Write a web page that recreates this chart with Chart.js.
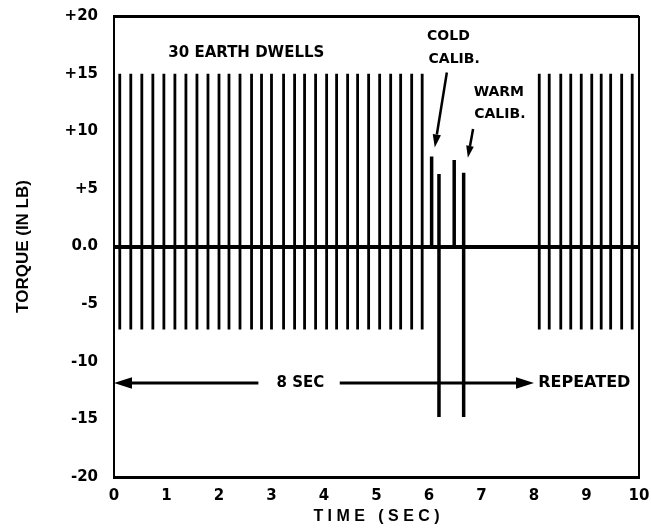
<!DOCTYPE html>
<html>
<head>
<meta charset="utf-8">
<script src="https://cdn.jsdelivr.net/npm/chart.js@4.4.1/dist/chart.umd.min.js"></script>
<style>
  html, body { margin: 0; padding: 0; background: #fff; }
</style>
</head>
<body>
<canvas id="torqueChart" width="651" height="529"></canvas>
<script>
// times (sec) of each dwell pulse
const earthDwellTimes = [0.11, 0.32, 0.53, 0.74, 0.95, 1.16, 1.37, 1.58, 1.79, 2.00,
  2.19, 2.40, 2.62, 2.81, 3.00, 3.23, 3.44, 3.63, 3.84, 4.05,
  4.24, 4.45, 4.64, 4.85, 5.06, 5.27, 5.46, 5.67, 5.87];
const repeatDwellTimes = [8.10, 8.29, 8.51, 8.70, 8.90, 9.10, 9.28, 9.46, 9.67, 9.87];
const dwellHigh = 15;
const dwellLow = -7.2;

// cold calib (first two), warm calib (last two)
const calibTimes = [6.05, 6.19, 6.48, 6.66];
const calibHigh = [7.8, 6.3, 7.5, 6.4];
const calibLow = [0, -14.8, 0, -14.8];

const yTickValues = [-20, -15, -10, -5, 0, 5, 10, 15, 20];
const yTickLabels = ['-20', '-15', '-10', '-5', '0.0', '+5', '+10', '+15', '+20'];

// one vertical stroke per pulse, broken with a null point
function pulses(times, high, low) {
  const pts = [];
  times.forEach((t, i) => {
    pts.push({ x: t, y: Array.isArray(high) ? high[i] : high });
    pts.push({ x: t, y: Array.isArray(low) ? low[i] : low });
    pts.push({ x: t, y: null });
  });
  return pts;
}

const labels = [
  { text: '30 EARTH DWELLS', x: 2.52, y: 16.8, size: 15 },
  { text: 'COLD', x: 6.37, y: 18.2, size: 14 },
  { text: 'CALIB.', x: 6.48, y: 16.2, size: 14 },
  { text: 'WARM', x: 7.33, y: 13.4, size: 14 },
  { text: 'CALIB.', x: 7.35, y: 11.5, size: 14 },
  { text: '8 SEC', x: 3.55, y: -11.85, size: 15 },
  { text: 'REPEATED', x: 8.08, y: -11.85, size: 16, align: 'left' }
];

const arrows = [
  { from: [2.75, -11.85], to: [0, -11.85], width: 3, head: 18 },
  { from: [4.3, -11.85], to: [8.0, -11.85], width: 3, head: 18 },
  { from: [6.34, 15.1], to: [6.11, 8.6], width: 2.5, head: 13 },
  { from: [6.84, 10.2], to: [6.74, 7.7], width: 2.5, head: 12 }
];

const notesPlugin = {
  id: 'notes',
  afterDatasetsDraw(chart) {
    const { ctx, scales: { x, y } } = chart;
    ctx.save();
    ctx.fillStyle = '#000';
    ctx.strokeStyle = '#000';
    arrows.forEach(a => {
      const x1 = x.getPixelForValue(a.from[0]), y1 = y.getPixelForValue(a.from[1]);
      const x2 = x.getPixelForValue(a.to[0]), y2 = y.getPixelForValue(a.to[1]);
      const ang = Math.atan2(y2 - y1, x2 - x1);
      const bx = x2 - a.head * Math.cos(ang), by = y2 - a.head * Math.sin(ang);
      const hw = a.head * 0.32;
      ctx.lineWidth = a.width;
      ctx.beginPath();
      ctx.moveTo(x1, y1);
      ctx.lineTo(bx, by);
      ctx.stroke();
      ctx.beginPath();
      ctx.moveTo(x2, y2);
      ctx.lineTo(bx + hw * Math.sin(ang), by - hw * Math.cos(ang));
      ctx.lineTo(bx - hw * Math.sin(ang), by + hw * Math.cos(ang));
      ctx.closePath();
      ctx.fill();
    });
    ctx.textBaseline = 'middle';
    labels.forEach(l => {
      ctx.font = 'bold ' + l.size + 'px "DejaVu Sans"';
      ctx.textAlign = l.align || 'center';
      ctx.fillText(l.text, x.getPixelForValue(l.x), y.getPixelForValue(l.y));
    });
    ctx.restore();
  }
};

const ctx = document.getElementById('torqueChart').getContext('2d');
const torqueChart = new Chart(ctx, {
  type: 'scatter',
  data: {
    datasets: [
      {
        label: 'Earth dwells',
        data: pulses(earthDwellTimes, dwellHigh, dwellLow),
        showLine: true, spanGaps: false,
        borderColor: '#000', borderWidth: 2.8, pointRadius: 0
      },
      {
        label: 'Repeated',
        data: pulses(repeatDwellTimes, dwellHigh, dwellLow),
        showLine: true, spanGaps: false,
        borderColor: '#000', borderWidth: 2.8, pointRadius: 0
      },
      {
        label: 'Calibration',
        data: pulses(calibTimes, calibHigh, calibLow),
        showLine: true, spanGaps: false,
        borderColor: '#000', borderWidth: 3.5, pointRadius: 0
      }
    ]
  },
  options: {
    responsive: false,
    animation: false,
    layout: { padding: { top: 16, right: 12, left: 0, bottom: 0 } },
    plugins: {
      legend: { display: false },
      tooltip: { enabled: false }
    },
    scales: {
      x: {
        type: 'linear',
        min: 0, max: 10,
        afterFit: s => { s.height = 52; s.paddingLeft = 0; s.paddingRight = 0; },
        ticks: {
          stepSize: 1,
          padding: 10,
          color: '#000',
          font: { family: 'DejaVu Sans', size: 15, weight: 'bold' }
        },
        grid: {
          drawTicks: false,
          color: c => (c.tick && c.tick.value === 10) ? '#000' : 'rgba(0,0,0,0)',
          lineWidth: 2
        },
        border: { display: true, color: '#000', width: 3 },
        title: {
          display: true,
          text: 'T I M E   ( S E C )',
          color: '#000',
          padding: { top: 0, bottom: 3 },
          font: { family: 'Liberation Sans', size: 16, weight: 'bold' }
        }
      },
      y: {
        min: -20, max: 20,
        afterFit: s => { s.width = 114; s.paddingTop = 0; s.paddingBottom = 0; },
        ticks: {
          stepSize: 5,
          padding: 16,
          color: '#000',
          font: { family: 'DejaVu Sans', size: 15, weight: 'bold' },
          callback: v => yTickLabels[yTickValues.indexOf(v)]
        },
        grid: {
          drawTicks: false,
          color: c => (c.tick && (c.tick.value === 0 || c.tick.value === 20)) ? '#000' : 'rgba(0,0,0,0)',
          lineWidth: c => (c.tick && c.tick.value === 0) ? 4 : 3
        },
        border: { display: true, color: '#000', width: 2 },
        title: {
          display: true,
          text: 'TORQUE (IN LB)',
          color: '#000',
          padding: { top: 13, bottom: 0 },
          font: { family: 'Liberation Sans', size: 17, weight: 'bold' }
        }
      }
    }
  },
  plugins: [notesPlugin]
});
</script>
</body>
</html>
